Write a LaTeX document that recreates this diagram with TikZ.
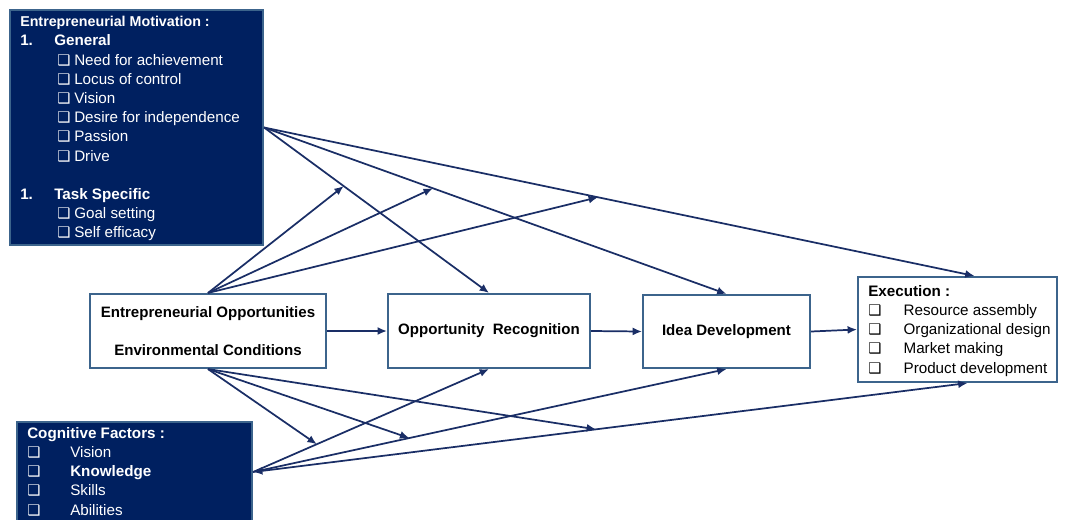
\documentclass[tikz,border=0pt]{standalone}
\usepackage{fontspec}
\setmainfont{Liberation Sans}
\newfontfamily\boxsym{DejaVu Sans}
\usepackage{tikz}
\usetikzlibrary{arrows.meta}
\usetikzlibrary{positioning}
\usetikzlibrary{calc}
\usetikzlibrary{fit}

\definecolor{navy}{RGB}{0,32,96}
\definecolor{steel}{RGB}{60,100,140}
\definecolor{linkblue}{RGB}{26,46,102}

\newcommand{\cbox}{{\boxsym\fontsize{11}{11}\selectfont ❑}}

\tikzset{
  darkbox/.style={draw=steel, line width=1.6pt, fill=navy, inner sep=0pt},
  stagebox/.style={draw=steel, line width=1.6pt, fill=white, inner sep=0pt},
  link/.style={draw=linkblue, line width=1.3pt, -{Latex[length=7pt,width=6pt]}},
  twoway link/.style={draw=linkblue, line width=1.3pt, {Latex[length=7pt,width=6pt]}-{Latex[length=7pt,width=6pt]}},
  listtext/.style={anchor=north west, inner sep=0pt, align=left, font=\fontsize{11.4}{14.4}\selectfont},
  stagetext/.style={inner sep=0pt, align=center, font=\bfseries\fontsize{11.3}{14}\selectfont},
}

\begin{document}
\begin{tikzpicture}[x=0.75pt,y=0.75pt,yscale=-1,xscale=1]
\clip (0,0) rectangle (1069,519);

% Boxes
\node[darkbox, fit={(10,10) (263,245)}]   (motiv) {};
\node[darkbox, fit={(17,422) (252,522)}]  (cog)   {};
\node[stagebox, fit={(90,294) (326,368)}] (eo)    {};
\node[stagebox, fit={(388,294) (590,368)}] (or)   {};
\node[stagebox, fit={(643,295) (810,368)}] (id)   {};
\node[stagebox, fit={(858,277) (1057,382)}] (exec) {};

% Box texts
\node[listtext, text=white] (motivtext) at (20,16) {%
  {\bfseries\fontsize{10.7}{14.4}\selectfont Entrepreneurial Motivation :}\\
  \makebox[25.5pt][l]{\bfseries 1.}\textbf{General}\\
  \hspace*{27.75pt}\makebox[12.75pt][l]{\cbox}Need for achievement\\
  \hspace*{27.75pt}\makebox[12.75pt][l]{\cbox}Locus of control\\
  \hspace*{27.75pt}\makebox[12.75pt][l]{\cbox}Vision\\
  \hspace*{27.75pt}\makebox[12.75pt][l]{\cbox}Desire for independence\\
  \hspace*{27.75pt}\makebox[12.75pt][l]{\cbox}Passion\\
  \hspace*{27.75pt}\makebox[12.75pt][l]{\cbox}Drive\\
  \mbox{}\\
  \makebox[25.5pt][l]{\bfseries 1.}\textbf{Task Specific}\\
  \hspace*{27.75pt}\makebox[12.75pt][l]{\cbox}Goal setting\\
  \hspace*{27.75pt}\makebox[12.75pt][l]{\cbox}Self efficacy};

\node[listtext, text=white] (cogtext) at (27,427) {%
  \textbf{Cognitive Factors :}\\
  \makebox[32.25pt][l]{\cbox}Vision\\
  \makebox[32.25pt][l]{\cbox}\textbf{Knowledge}\\
  \makebox[32.25pt][l]{\cbox}Skills\\
  \makebox[32.25pt][l]{\cbox}Abilities};

\node[listtext] (exectext) at (868,285) {%
  \textbf{Execution :}\\
  \makebox[26.5pt][l]{\cbox}Resource assembly\\
  \makebox[26.5pt][l]{\cbox}Organizational design\\
  \makebox[26.5pt][l]{\cbox}Market making\\
  \makebox[26.5pt][l]{\cbox}Product development};

\node[stagetext] (eotext) at (eo.center) {Entrepreneurial Opportunities\\[14pt]Environmental Conditions};
\node[stagetext] (ortext) at (or.center) {Opportunity\ \ Recognition};
\node[stagetext] (idtext) at (id.center) {Idea Development};

% Main flow
\draw[link] (eo.east) -- (or.west);
\draw[link] (or.east) -- (id.west);
\draw[link] (id.east) -- (exec.west);

% Motivation links
\coordinate (exectop) at ($(exec.north)+(17,0)$);
\coordinate (execbot) at ($(exec.south)+(10,0)$);
\draw[link] (motiv.east) -- (or.north);
\draw[link] (motiv.east) -- (id.north);
\draw[link] (motiv.east) -- (exectop);

% Opportunities acting on the motivation links
\coordinate (m1) at ($(motiv.east)!0.354!(or.north)$);
\coordinate (m2) at ($(motiv.east)!0.365!(id.north)$);
\coordinate (m3) at ($(motiv.east)!0.47!(exectop)$);
\draw[link] (eo.north) -- (m1);
\draw[link] (eo.north) -- (m2);
\draw[link] (eo.north) -- (m3);

% Cognitive links
\draw[link] (cog.east) -- (or.south);
\draw[link] (cog.east) -- (id.south);
\draw[twoway link] (cog.east) -- (execbot);

% Opportunities acting on the cognitive links
\coordinate (c1) at ($(cog.east)!0.27!(or.south)$);
\coordinate (c2) at ($(cog.east)!0.33!(id.south)$);
\coordinate (c3) at ($(cog.east)!0.48!(execbot)$);
\draw[link] (eo.south) -- (c1);
\draw[link] (eo.south) -- (c2);
\draw[link] (eo.south) -- (c3);

\end{tikzpicture}
\end{document}
